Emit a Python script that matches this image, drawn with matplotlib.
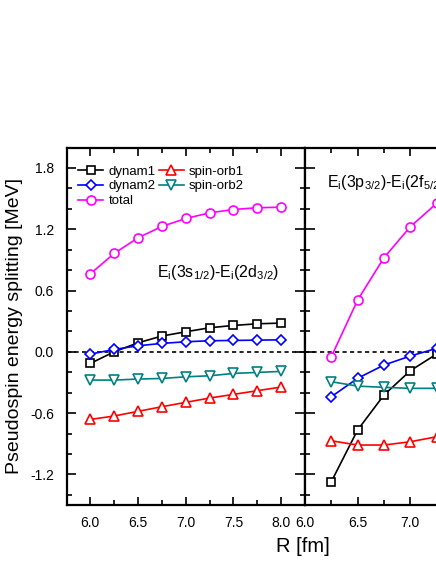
import matplotlib
matplotlib.use("Agg")
import matplotlib.pyplot as plt
from matplotlib.ticker import MultipleLocator

plt.rcParams['font.family'] = ['Liberation Sans', 'DejaVu Sans']
plt.rcParams['mathtext.fontset'] = 'custom'
plt.rcParams['mathtext.rm'] = 'Liberation Sans'
plt.rcParams['mathtext.it'] = 'Liberation Sans:italic'

# ---- data: left panel  E_i(3s1/2)-E_i(2d3/2)
R_left = [6.0, 6.25, 6.5, 6.75, 7.0, 7.25, 7.5, 7.75, 8.0]
dynam1_L = [-0.114, 0.0, 0.088, 0.154, 0.196, 0.235, 0.258, 0.274, 0.281]
dynam2_L = [-0.023, 0.023, 0.059, 0.082, 0.098, 0.108, 0.111, 0.114, 0.117]
total_L = [0.763, 0.963, 1.116, 1.227, 1.305, 1.360, 1.393, 1.410, 1.416]
spinorb1_L = [-0.662, -0.629, -0.583, -0.538, -0.495, -0.453, -0.417, -0.381, -0.345]
spinorb2_L = [-0.277, -0.277, -0.267, -0.261, -0.245, -0.235, -0.212, -0.202, -0.192]

# ---- data: right panel  E_i(3p3/2)-E_i(2f5/2)  (visible part)
R_right = [6.25, 6.5, 6.75, 7.0, 7.25]
dynam1_R = [-1.272, -0.766, -0.424, -0.186, -0.023]
dynam2_R = [-0.44, -0.26, -0.13, -0.042, 0.033]
total_R = [-0.049, 0.506, 0.92, 1.223, 1.452]
spinorb1_R = [-0.871, -0.913, -0.913, -0.881, -0.832]
spinorb2_R = [-0.293, -0.336, -0.348, -0.358, -0.358]

labels = ['dynam1', 'dynam2', 'total', 'spin-orb1', 'spin-orb2']
colors = ['black', '#0000FF', '#FF00FF', '#FF0000', '#008080']
markers = ['s', 'D', 'o', '^', 'v']
msizes = [6.0, 5.5, 6.5, 7.0, 7.0]

yticks = [-1.2, -0.6, 0.0, 0.6, 1.2, 1.8]
ytick_labels = ['-1.2', '-0.6', '0.0', '0.6', '1.2', '1.8']
xticks = [6.0, 6.5, 7.0, 7.5, 8.0]
xtick_labels_L = ['6.0', '6.5', '7.0', '7.5', '8.0']
xtick_labels_R = ['6.0', '6.5', '7.0', '', '']

W, H = 436, 564
fig = plt.figure(figsize=(W / 100, H / 100), dpi=100)

x0, x1 = 66.5, 305.0
y0, y1 = 147.5, 505.0
aw = (x1 - x0) / W
ah = (y1 - y0) / H
axL = fig.add_axes([x0 / W, 1 - y1 / H, aw, ah])
axR = fig.add_axes([x1 / W, 1 - y1 / H, aw, ah])


def draw(ax, R, series):
    hs = []
    for ys, lab, c, m, ms in zip(series, labels, colors, markers, msizes):
        h, = ax.plot(R, ys, color=c, marker=m, ms=ms, mfc='white', mec=c,
                     mew=1.2, lw=1.2, label=lab)
        hs.append(h)
    ax.axhline(0.0, color='black', lw=1.2, ls=(0, (2.5, 2.0)), zorder=1)
    ax.set_ylim(-1.5, 2.0)
    ax.set_yticks(yticks)
    ax.yaxis.set_minor_locator(MultipleLocator(0.2))
    ax.set_xticks(xticks)
    ax.xaxis.set_minor_locator(MultipleLocator(0.25))
    for s in ax.spines.values():
        s.set_linewidth(1.6)
    ax.tick_params(axis='x', which='both', direction='in', top=True, bottom=True,
                   labelsize=10, pad=8, width=1.2)
    ax.tick_params(axis='x', which='major', length=6)
    ax.tick_params(axis='x', which='minor', length=3.5)
    return hs


hs = draw(axL, R_left, [dynam1_L, dynam2_L, total_L, spinorb1_L, spinorb2_L])
axL.set_xlim(5.75, 8.25)
axL.tick_params(axis='y', which='both', direction='in', left=True, right=False,
                labelsize=10, pad=9, width=1.2)
axL.tick_params(axis='y', which='major', length=6.5)
axL.tick_params(axis='y', which='minor', length=3.6)
axL.set_yticklabels(ytick_labels)
axL.set_xticklabels(xtick_labels_L)
axL.set_ylabel('Pseudospin energy splitting [MeV]', fontsize=14, labelpad=5)

draw(axR, R_right, [dynam1_R, dynam2_R, total_R, spinorb1_R, spinorb2_R])
axR.set_xlim(6.0, 8.267)
axR.tick_params(axis='y', which='both', direction='inout', left=True, right=False,
                labelleft=False, width=1.2)
axR.tick_params(axis='y', which='major', length=14)
axR.tick_params(axis='y', which='minor', length=7)
axR.set_xticklabels(xtick_labels_R)

axL.legend(handles=hs, ncol=2, loc='upper left', bbox_to_anchor=(0.05, 0.95),
           frameon=False, fontsize=9.5, handlelength=1.9, handletextpad=0.4,
           columnspacing=0.2, labelspacing=0.2, borderpad=0.0, borderaxespad=0.0)

axL.text(0.379, 0.639, r'E$_\mathrm{i}$(3s$_\mathrm{1/2}$)-E$_\mathrm{i}$(2d$_\mathrm{3/2}$)',
         transform=axL.transAxes, fontsize=11.5, va='baseline', ha='left')
axR.text(0.092, 0.889, r'E$_\mathrm{i}$(3p$_\mathrm{3/2}$)-E$_\mathrm{i}$(2f$_\mathrm{5/2}$)',
         transform=axR.transAxes, fontsize=11.5, va='baseline', ha='left')

fig.text(303 / W, 1 - 547 / H, 'R [fm]', fontsize=14.5, ha='center', va='center')

fig.savefig('out.png', dpi=100)
